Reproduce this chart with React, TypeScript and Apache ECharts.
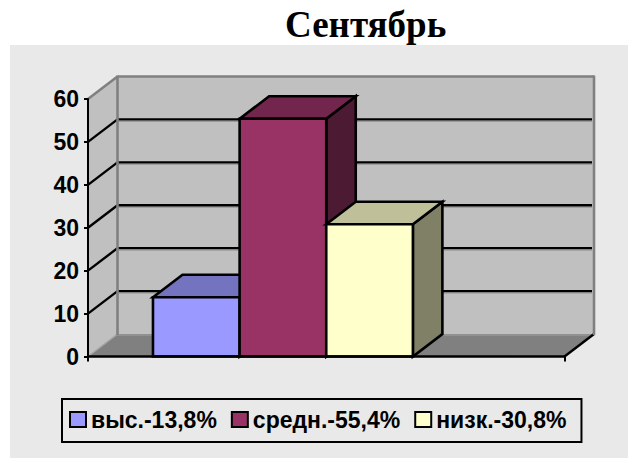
import React, { useEffect, useRef } from "react";
import * as echarts from "echarts";

const TITLE = "Сентябрь";
const CATEGORIES = [""];
const SERIES_NAMES = ["выс.-13,8%", "средн.-55,4%", "низк.-30,8%"];
const SERIES_VALUES = [13.8, 55.4, 30.8];
const TICKS = [0, 10, 20, 30, 40, 50, 60];
const FRONT_COLORS = ["#9999FF", "#993366", "#FFFFCC"];
const TOP_COLORS = ["#7373BF", "#73264D", "#BFBF99"];
const SIDE_COLORS = ["#4D4D80", "#4D1A33", "#808066"];

const DX = 29.5;
const DY = -22.5;
const GAP_BARS = 2.5;
const SANS = '"Liberation Sans", Arial, sans-serif';
const SERIF = '"Liberation Serif", "Times New Roman", serif';

const poly = (points: number[][], fill: string, stroke: string, lineWidth: number) => ({
  type: "polygon",
  shape: { points },
  style: { fill, stroke, lineWidth, lineJoin: "miter" },
  silent: true,
});
const seg = (x1: number, y1: number, x2: number, y2: number, stroke: string, lineWidth: number) => ({
  type: "line",
  shape: { x1, y1, x2, y2 },
  style: { stroke, lineWidth, fill: "none" },
  silent: true,
});

function renderWall(_params: any, api: any) {
  const tick = api.value(1);
  const [cx, y] = api.coord([0, tick]);
  const w = api.size([1, 0])[0];
  const l = cx - w / 2;
  const r = cx + w / 2;
  const children: any[] = [];
  if (tick === TICKS[0]) {
    const top = api.coord([0, TICKS[TICKS.length - 1]])[1];
    children.push(
      poly([[l + DX, top + DY], [r + DX, top + DY], [r + DX, y + DY], [l + DX, y + DY]], "#C0C0C0", "none", 0),
      poly([[l, top], [l + DX, top + DY], [l + DX, y + DY], [l, y]], "#C0C0C0", "none", 0),
      poly([[l, y], [l + DX, y + DY], [r + DX, y + DY], [r, y]], "#808080", "none", 0),
      seg(l + DX, y + DY + 1, r + DX, y + DY + 1, "#979797", 1.5),
      seg(l, y, l + DX, y + DY, "#A6A6A6", 1.5),
      seg(r, y, r + DX, y + DY, "#000000", 2.4)
    );
  } else if (tick === TICKS[TICKS.length - 1]) {
    const bottom = api.coord([0, TICKS[0]])[1];
    children.push(
      seg(l, y, l + DX, y + DY, "#808080", 2.6),
      seg(l + DX, y + DY, r + DX, y + DY, "#808080", 2.6),
      seg(l + DX, y + DY - 1, l + DX, bottom + DY + 1, "#808080", 2.6),
      seg(r + DX, y + DY - 1, r + DX, bottom + DY + 1, "#808080", 2.6)
    );
  } else {
    children.push(
      seg(l + DX, y + DY + 2, r + DX - 2, y + DY + 2, "#979797", 1),
      seg(l + DX, y + DY, r + DX - 2, y + DY, "#000000", 2.4),
      seg(l, y, l + DX, y + DY, "#000000", 2.4)
    );
  }
  return { type: "group", children };
}

const renderBar = (i: number) => (_params: any, api: any) => {
  const value = api.value(1);
  const [cx, y] = api.coord([0, value]);
  const y0 = api.coord([0, 0])[1];
  const barW = api.size([1, 0])[0] / (SERIES_VALUES.length + GAP_BARS);
  const l = cx + (i - SERIES_VALUES.length / 2 - 0.5) * barW;
  const r = l + barW;
  return {
    type: "group",
    children: [
      poly([[r, y], [r + DX, y + DY], [r + DX, y0 + DY], [r, y0]], SIDE_COLORS[i], "#000000", 2.6),
      poly([[l, y], [l + DX, y + DY], [r + DX, y + DY], [r, y]], TOP_COLORS[i], "#000000", 2.6),
      poly([[l, y], [r, y], [r, y0], [l, y0]], FRONT_COLORS[i], "#000000", 2.6),
    ],
  };
};

export default function App() {
  const ref = useRef<HTMLDivElement>(null);
  useEffect(() => {
    const chart = echarts.init(ref.current!, undefined, { renderer: "svg" });
    chart.setOption({
      animation: false,
      backgroundColor: "#FFFFFF",
      title: {
        text: TITLE,
        left: 285,
        top: 6,
        padding: 0,
        textStyle: { fontFamily: SERIF, fontWeight: "bold", fontSize: 37, color: "#000000" },
      },
      graphic: [
        {
          type: "rect",
          z: -10,
          silent: true,
          shape: { x: 10, y: 45, width: 618, height: 413 },
          style: { fill: "#E9E9E9" },
        },
      ],
      grid: { left: 88, right: 63.5, top: 99, bottom: 101.5 },
      xAxis: {
        type: "category",
        data: CATEGORIES,
        z: 5,
        axisLine: { lineStyle: { color: "#000000", width: 2.6 } },
        axisTick: { show: true, length: 5, lineStyle: { color: "#000000", width: 2 } },
        axisLabel: { show: false },
        splitLine: { show: false },
      },
      yAxis: {
        type: "value",
        min: 0,
        max: 60,
        interval: 10,
        z: 5,
        axisLine: { show: true, lineStyle: { color: "#000000", width: 2 } },
        axisTick: { show: true, length: 4, lineStyle: { color: "#000000", width: 2 } },
        axisLabel: { margin: 9, fontFamily: SANS, fontWeight: "bold", fontSize: 23, color: "#000000" },
        splitLine: { show: false },
      },
      legend: {
        left: 62,
        top: 399,
        orient: "horizontal",
        padding: [9, 15, 11, 7],
        itemGap: 14,
        itemWidth: 16,
        itemHeight: 15,
        borderColor: "#000000",
        borderWidth: 2,
        backgroundColor: "#E9E9E9",
        selectedMode: false,
        textStyle: { fontFamily: SANS, fontWeight: "bold", fontSize: 23, color: "#000000" },
        data: SERIES_NAMES.map((name, i) => ({
          name,
          icon: "rect",
          itemStyle: { color: FRONT_COLORS[i], borderColor: "#000000", borderWidth: 2 },
        })),
      },
      series: [
        {
          type: "custom",
          name: "стенки",
          silent: true,
          z: 1,
          encode: { x: 0, y: 1 },
          data: TICKS.map((t) => [0, t]),
          renderItem: renderWall,
        },
        ...SERIES_NAMES.map((name, i) => ({
          type: "custom",
          name,
          silent: true,
          z: 2,
          encode: { x: 0, y: 1 },
          itemStyle: { color: FRONT_COLORS[i] },
          data: [[0, SERIES_VALUES[i]]],
          renderItem: renderBar(i),
        })),
      ],
    });
    return () => chart.dispose();
  }, []);
  return <div ref={ref} style={{ position: "absolute", left: 0, top: 0, width: 628, height: 458 }} />;
}
